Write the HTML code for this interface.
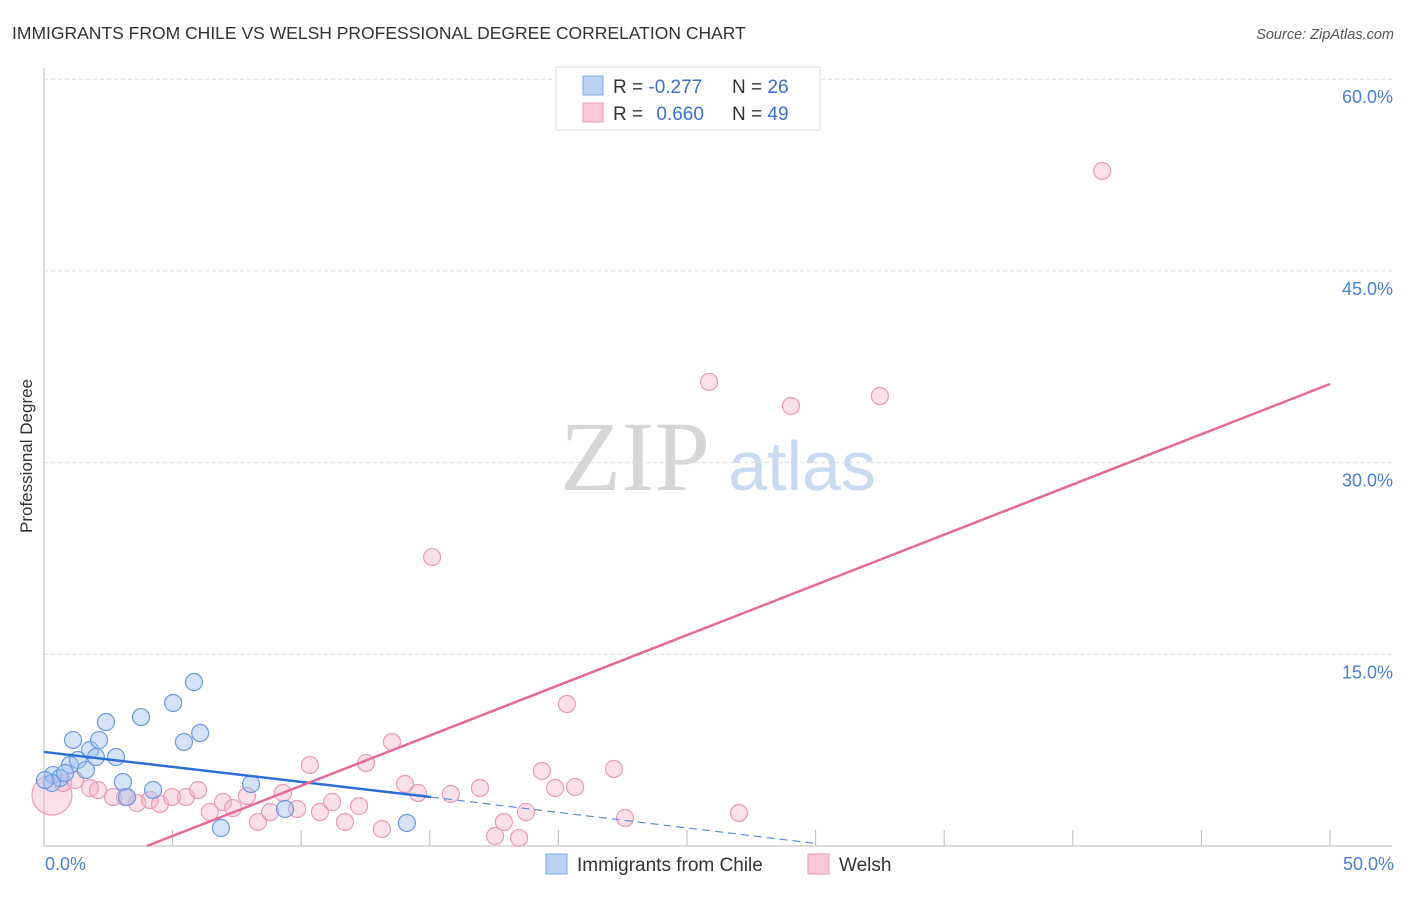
<!DOCTYPE html>
<html><head><meta charset="utf-8"><style>
body{margin:0;background:#fff;font-family:"Liberation Sans",sans-serif}
svg text{font-family:"Liberation Sans",sans-serif}
</style></head><body>
<svg id="c" width="1406" height="892">
<text x="12" y="39" font-size="17.5" fill="#333">IMMIGRANTS FROM CHILE VS WELSH PROFESSIONAL DEGREE CORRELATION CHART</text>
<text x="1394" y="39" font-size="14.5" fill="#555" font-style="italic" text-anchor="end">Source: ZipAtlas.com</text>
<text x="635" y="490" font-size="100" fill="#d6d6d6" style="font-family:'Liberation Serif',serif" text-anchor="middle">ZIP</text>
<text x="802" y="490" font-size="70" fill="#c8daf2" text-anchor="middle">atlas</text>
<text transform="translate(32,456) rotate(-90)" font-size="17" fill="#333" text-anchor="middle">Professional Degree</text>
<g id="grid"></g><g id="pts"></g><g id="lines"></g>
<g>
<rect x="556" y="67" width="264" height="63" fill="#fff" stroke="#ddd"/>
<rect x="583" y="76" width="20" height="19" fill="#b9d2f4" stroke="#7ea8e6"/>
<rect x="583" y="103" width="20" height="19" fill="#f9c9d8" stroke="#ec9ab8"/>
<text x="613" y="93" font-size="19" fill="#333">R = <tspan fill="#3a70d0">-0.277</tspan></text>
<text x="732" y="93" font-size="19" fill="#333">N = <tspan fill="#3a70d0">26</tspan></text>
<text x="613" y="120" font-size="19" fill="#333">R = <tspan fill="#3a70d0" dx="8">0.660</tspan></text>
<text x="732" y="120" font-size="19" fill="#333">N = <tspan fill="#3a70d0">49</tspan></text>
</g>
<g>
<rect x="546" y="854" width="21" height="20" fill="#b9d2f4" stroke="#7ea8e6"/>
<text x="577" y="871" font-size="19" fill="#333">Immigrants from Chile</text>
<rect x="808" y="854" width="21" height="20" fill="#f9c9d8" stroke="#ec9ab8"/>
<text x="839" y="871" font-size="19" fill="#333">Welsh</text>
</g>
</svg>
<script>
const yTicks=[15,30,45,60];
const yTickLabels=["15.0%","30.0%","45.0%","60.0%"];
const xEndLabels=["0.0%","50.0%"];
const chileX=[0.35,0.62,1.01,1.13,1.32,1.63,1.79,2.14,2.02,2.41,2.80,3.07,3.23,3.77,4.24,5.02,5.44,5.83,6.07,6.88,8.05,9.37,14.11,0.31,0.82,0.04];
const chileY=[5.56,5.32,6.34,8.29,6.73,5.95,7.51,8.29,6.96,9.70,6.96,5.01,3.83,10.09,4.38,11.19,8.14,12.83,8.84,1.41,4.85,2.90,1.80,4.93,5.71,5.16];
const welshX=[0.31,0.74,1.21,1.79,2.10,2.68,3.15,3.62,4.12,4.51,4.98,5.52,5.99,6.45,6.96,7.35,7.89,8.32,8.79,9.29,9.84,10.34,10.73,11.20,11.70,12.25,12.52,13.14,13.53,14.04,14.54,15.09,15.82,16.95,17.54,17.88,18.47,18.74,19.36,19.87,20.33,20.65,22.16,22.59,25.86,27.02,29.04,32.50,41.14];
const welshY=[3.99,4.93,5.16,4.54,4.38,3.83,3.83,3.36,3.60,3.29,3.83,3.83,4.38,2.66,3.44,2.97,3.91,1.88,2.66,4.15,2.90,6.34,2.66,3.44,1.88,3.13,6.49,1.33,8.14,4.85,4.15,22.61,4.07,4.54,0.78,1.88,0.63,2.66,5.87,4.54,11.11,4.62,6.03,2.19,36.31,2.58,34.43,35.21,52.82];
const chileLine=[[0,7.36],[15.05,3.83],[30,0.2]];
const welshLine=[[4.0,0],[50,36.15]];
const X=v=>44+v*25.72, Y=v=>846-v*12.78;
const NS="http://www.w3.org/2000/svg";
function mk(t,a,p){const e=document.createElementNS(NS,t);for(const k in a)e.setAttribute(k,a[k]);p.appendChild(e);return e;}
const g=document.getElementById('grid');
const ax=mk('line',{x1:44,y1:68,x2:44,y2:846,stroke:'#bbb'},g);


const bx=mk('line',{x1:44,y1:846,x2:1392,y2:846,stroke:'#bbb'},g);


yTicks.forEach((t,i)=>{
 const l=mk('line',{x1:44,x2:1392,y1:Y(t),y2:Y(t),stroke:'#ddd','stroke-dasharray':'4,3'},g);
 
 
 const tx=mk('text',{x:1393,y:Y(t)+24,'font-size':18,fill:'#4a7fd6','text-anchor':'end'},g);
 tx.textContent=yTickLabels[i];
 
 
});
for(let i=1;i<=10;i++){
 const l=mk('line',{x1:X(i*5),x2:X(i*5),y1:830,y2:846,stroke:'#bbb'},g);
 
 
}
[[0,'start',45],[50,'end',1394]].forEach((d,i)=>{
 const tx=mk('text',{x:d[2],y:870,'font-size':18,fill:'#4a7fd6','text-anchor':d[1]},g);
 tx.textContent=xEndLabels[i];
 
 
});
const p=document.getElementById('pts');
welshX.forEach((x,i)=>{
 const c=mk('circle',{cx:X(x),cy:Y(welshY[i]),r:i==0?20:8.5,fill:'rgba(246,176,200,0.4)',stroke:'#eb9ab8','stroke-width':1.2},p);
 
 
});
chileX.forEach((x,i)=>{
 const c=mk('circle',{cx:X(x),cy:Y(chileY[i]),r:8.5,fill:'rgba(160,194,240,0.45)',stroke:'#6a9be0','stroke-width':1.2},p);
 
 
});
const L=document.getElementById('lines');
const b1=mk('line',{x1:X(chileLine[0][0]),y1:Y(chileLine[0][1]),x2:X(chileLine[1][0]),y2:Y(chileLine[1][1]),stroke:'#2b6fd6','stroke-width':2.5},L);


const b2=mk('line',{x1:X(chileLine[1][0]),y1:Y(chileLine[1][1]),x2:X(chileLine[2][0]),y2:Y(chileLine[2][1]),stroke:'#5a8ee0','stroke-width':1.2,'stroke-dasharray':'8,5'},L);


const w=mk('line',{x1:X(welshLine[0][0]),y1:Y(welshLine[0][1]),x2:X(welshLine[1][0]),y2:Y(welshLine[1][1]),stroke:'#e8689a','stroke-width':2.5},L);


</script>
</body></html>
